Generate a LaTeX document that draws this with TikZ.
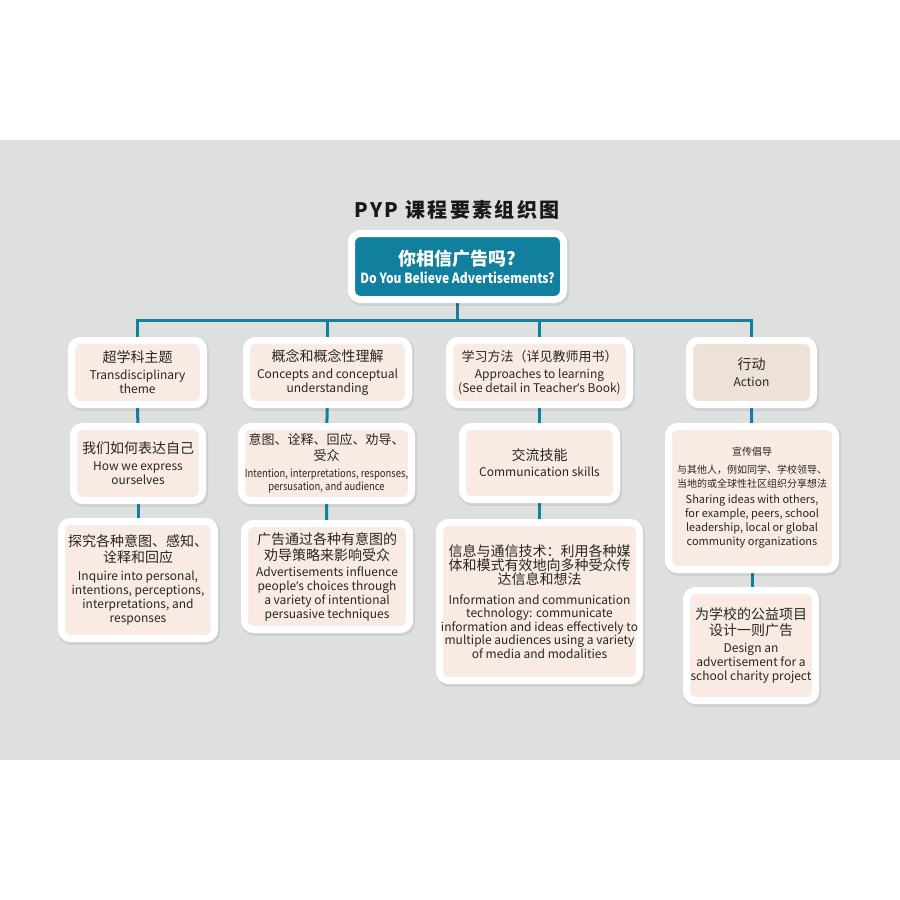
\documentclass[tikz,border=0pt]{standalone}
\usepackage{fontspec}
\setmainfont{Noto Sans CJK SC}
\newfontfamily\condfont[FakeStretch=0.86]{Noto Sans CJK SC}
\newfontfamily\latfont{Noto Sans}
\usetikzlibrary{backgrounds}
\definecolor{bgc}{HTML}{DEE0DF}
\definecolor{tealc}{HTML}{117F9E}
\definecolor{pinkbox}{HTML}{F9EBE3}
\definecolor{tanbox}{HTML}{EEE1D6}
\definecolor{txt}{HTML}{262626}
\newcommand{\cjkA}{\fontsize{14}{14}\selectfont}
\newcommand{\cjkB}{\fontsize{13}{13}\selectfont}
\newcommand{\cjkS}{\fontsize{10}{10}\selectfont}
\newcommand{\apos}{{\latfont ’}}
\tikzset{
  card/.style={draw=white, line width=7pt, fill=pinkbox, rounded corners=9pt,
    inner sep=0pt, align=center, text=txt, font=\fontsize{12}{14}\selectfont,
    preaction={draw=black, draw opacity=0.07, fill opacity=0, line width=9pt,
      transform canvas={shift={(1.2pt,-1.8pt)}}}},
  rootcard/.style={card, fill=tealc, text=white, font=\fontsize{14}{16}\selectfont},
  link/.style={draw=tealc, line width=3pt},
}
\begin{document}
\begin{tikzpicture}[x=1pt,y=-1pt]
\useasboundingbox (0,0) rectangle (900,900);
% title
\node[font=\fontsize{20}{24}\selectfont\bfseries, text=black!90] (title) at (457,210)
  {\addfontfeature{LetterSpace=12}PYP 课程要素组织图};
% root
\node[rootcard, minimum width=212pt, minimum height=66pt] (root) at (457.5,266.5)
  {{\fontsize{18}{18}\selectfont\bfseries 你相信广告吗?}\\[2pt]
   {\condfont\bfseries\fontsize{14}{14}\selectfont Do You Believe Advertisements?}};
% level 2
\node[card, minimum width=132pt, minimum height=64pt] (A) at (137.5,372.5)
  {{\cjkA 超学科主题}\\[3pt] Transdisciplinary\\ theme};
\node[card, minimum width=162pt, minimum height=64pt] (B) at (327.5,372.5)
  {{\cjkA 概念和概念性理解}\\[3pt] Concepts and conceptual\\ understanding};
\node[card, minimum width=180pt, minimum height=64pt] (C) at (539.5,372.5)
  {{\cjkB 学习方法（详见教师用书）}\\[3pt] Approaches to learning\\ (See detail in Teacher\apos s Book)};
\node[card, fill=tanbox, minimum width=124pt, minimum height=64pt] (D) at (751.5,372.5)
  {{\cjkA 行动}\\[3pt] Action};
% level 3
\node[card, minimum width=129pt, minimum height=74pt] (A3) at (138,463.5)
  {{\cjkA 我们如何表达自己}\\[3pt] How we express\\ ourselves};
\node[card, minimum width=170pt, minimum height=74pt, font=\fontsize{11}{13}\selectfont] (B3) at (326.5,463.5)
  {{\cjkB 意图、诠释、回应、劝导、}\\[3pt] {\cjkB 受众}\\[4pt]
   {\condfont Intention, interpretations, responses,}\\ {\condfont persusation, and audience}};
\node[card, minimum width=154pt, minimum height=73pt] (C3) at (539.5,463)
  {{\cjkA 交流技能}\\[2pt] Communication skills};
\node[card, minimum width=167pt, minimum height=143pt, font=\fontsize{11}{14}\selectfont] (D3) at (752,498)
  {{\cjkS 宣传倡导}\\[4pt] {\cjkS 与其他人，例如同学、学校领导、}\\ {\cjkS 当地的或全球性社区组织分享想法}\\[2pt]
   Sharing ideas with others,\\ for example, peers, school\\ leadership, local or global\\ community organizations};
% level 4
\node[card, minimum width=153pt, minimum height=117pt] (A4) at (138,580)
  {{\cjkA 探究各种意图、感知、}\\[2pt] {\cjkA 诠释和回应}\\[4pt]
   Inquire into personal,\\ intentions, perceptions,\\ interpretations, and\\ responses};
\node[card, minimum width=165pt, minimum height=106pt] (B4) at (327,576.5)
  {{\cjkA 广告通过各种有意图的}\\[2pt] {\cjkA 劝导策略来影响受众}\\[2pt]
   Advertisements influence\\ people\apos s choices through\\ a variety of intentional\\ persuasive techniques};
\node[card, minimum width=200pt, minimum height=158pt, font=\fontsize{12}{13.5}\selectfont] (C4) at (539.5,601.5)
  {{\cjkA 信息与通信技术：利用各种媒}\\[0.5pt] {\cjkA 体和模式有效地向多种受众传}\\[0.5pt] {\cjkA 达信息和想法}\\[6pt]
   Information and communication\\ technology: communicate\\ information and ideas effectively to\\ multiple audiences using a variety\\ of media and modalities};
\node[card, minimum width=129pt, minimum height=110pt] (D4) at (751,645.5)
  {{\cjkA 为学校的公益项目}\\[2pt] {\cjkA 设计一则广告}\\[3pt]
   Design an\\ advertisement for a\\ school charity project};
% background and connectors
\begin{scope}[on background layer]
  \fill[white] (0,0) rectangle (900,900);
  \fill[bgc] (0,140) rectangle (900,760);
  \coordinate (bus) at (457.5,320);
  \draw[link] (root.south) -- (bus);
  \draw[link] (A.north) |- (bus) -| (D.north);
  \draw[link] (B.north) -- (B.north |- bus);
  \draw[link] (C.north) -- (C.north |- bus);
  \draw[link] (A) -- (A3);
  \draw[link] (A3) -- (A4);
  \draw[link] (B) -- (B3);
  \draw[link] (B3) -- (B4);
  \draw[link] (C) -- (C3);
  \draw[link] (C3) -- (C4);
  \draw[link] (D) -- (D3);
  \draw[link] (D3.south) -- (D3.south |- D4.north);
\end{scope}
\end{tikzpicture}
\end{document}
